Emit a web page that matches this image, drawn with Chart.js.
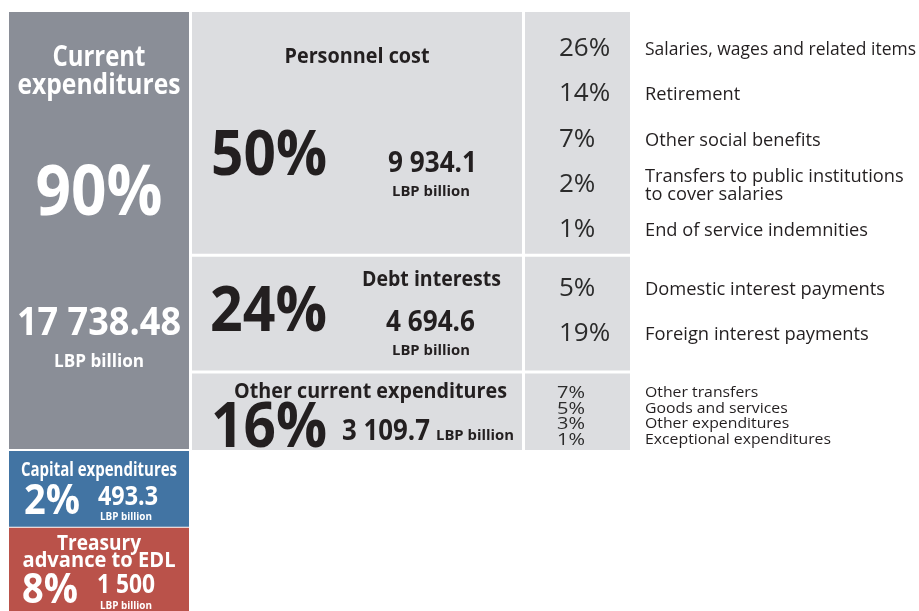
<!DOCTYPE html>
<html>
<head>
<meta charset="utf-8">
<script src="https://cdn.jsdelivr.net/npm/chart.js@4.4.1/dist/chart.umd.min.js"></script>
<style>
  html, body { margin: 0; padding: 0; background: #fff; }
  #wrap { width: 919px; height: 611px; }
</style>
</head>
<body>
<div id="wrap"><canvas id="chart" width="919" height="611"></canvas></div>
<script>
// shares in % of total spending, amounts in LBP billion
const groupNames = ['Current expenditures', 'Capital expenditures', 'Treasury advance to EDL']
const groupShares = [90, 2, 8]
const groupAmounts = [17738.48, 493.3, 1500]

const currentNames = ['Personnel cost', 'Debt interests', 'Other current expenditures']
const currentShares = [50, 24, 16]
const currentAmounts = [9934.1, 4694.6, 3109.7]

const personnelItems = ['Salaries, wages and related items', 'Retirement', 'Other social benefits', 'Transfers to public institutions\nto cover salaries', 'End of service indemnities']
const personnelShares = [26, 14, 7, 2, 1]

const debtItems = ['Domestic interest payments', 'Foreign interest payments']
const debtShares = [5, 19]

const otherItems = ['Other transfers', 'Goods and services', 'Other expenditures', 'Exceptional expenditures']
const otherShares = [7, 5, 3, 1]

// layout (x in page units, y in percentage points of the total)
const COL_GROUP = [9, 189]
const COL_CURRENT = [192, 522]
const COL_DETAIL = [525, 630]
const GAP = 0.62
const SMALL_TILE = 15.6
const Y_MIN = -2.47
const Y_MAX = 123.1

const GRAY = '#8a8e97'
const LIGHT = '#dcdde0'
const BLUE = '#4274a3'
const RED = '#ba524a'
const INK = '#231f20'
const FONT = '"Open Sans", "Noto Sans", sans-serif'

const fmt = n => {
    const [a, b] = n.toString().split('.')
    return a.replace(/\B(?=(\d{3})+(?!\d))/g, ' ') + (b ? '.' + b : '')
}

// build the tiles from the shares
const tiles = {}
tiles.current = { x: COL_GROUP, y: [0, groupShares[0] - 0.2], color: GRAY }
tiles.capital = { x: COL_GROUP, y: [groupShares[0] + 0.2, groupShares[0] + 0.2 + SMALL_TILE], color: BLUE }
tiles.edl = { x: COL_GROUP, y: [groupShares[0] + 0.4 + SMALL_TILE, Y_MAX + 5], color: RED }

let start = 0
currentShares.forEach((s, i) => {
    const y0 = start + (i ? GAP / 2 : 0)
    const y1 = start + s - (i < currentShares.length - 1 ? GAP / 2 : 0)
    tiles['mid' + i] = { x: COL_CURRENT, y: [y0, y1], color: LIGHT }
    tiles['det' + i] = { x: COL_DETAIL, y: [y0, y1], color: LIGHT }
    start += s
})

const datasets = Object.values(tiles).map(t => ({
    data: [{ x: t.x[0], y: t.y[0] }, { x: t.x[1], y: t.y[0] }],
    fill: { value: t.y[1] },
    backgroundColor: t.color,
    borderColor: 'transparent',
    borderWidth: 0,
    pointRadius: 0,
    tension: 0
}))

function text(ctx, str, x, y, size, weight, color, align, width) {
    ctx.save()
    ctx.font = `${weight} ${size}px ${FONT}`
    ctx.fillStyle = color
    ctx.textBaseline = 'alphabetic'
    ctx.textAlign = 'left'
    const w = ctx.measureText(str).width
    const tw = width || w
    const left = align === 'center' ? x - tw / 2 : align === 'right' ? x - tw : x
    ctx.translate(left, y)
    ctx.scale(tw / w, 1)
    ctx.fillText(str, 0, 0)
    ctx.restore()
}

// draw a list of labels with one shared horizontal squeeze, kept inside the page
function labelList(ctx, items, x, ys, size, refWidth, refIndex) {
    ctx.save()
    ctx.font = `400 ${size}px ${FONT}`
    const k = refWidth / ctx.measureText(items[refIndex]).width
    ctx.restore()
    const maxW = ctx.canvas.width - x - 3
    items.forEach((s, i) => {
        const lines = s.split('\n')
        lines.forEach((ln, j) => {
            const yy = ys[i] + (j - (lines.length - 1) / 2) * 18
            ctx.save()
            ctx.font = `400 ${size}px ${FONT}`
            const w = ctx.measureText(ln).width
            ctx.restore()
            text(ctx, ln, x, yy, size, 400, INK, 'left', Math.min(w * k, maxW))
        })
    })
}

const tileText = {
    id: 'tileText',
    afterDatasetsDraw(chart) {
        const { ctx, scales: { x, y } } = chart
        const box = t => ({
            l: x.getPixelForValue(t.x[0]), r: x.getPixelForValue(t.x[1]),
            t: y.getPixelForValue(t.y[0]), b: Math.min(y.getPixelForValue(t.y[1]), chart.height)
        })
        const W = '#ffffff'

        // current expenditures
        let g = box(tiles.current), cx = (g.l + g.r) / 2
        const cur = groupNames[0].split(' ')
        text(ctx, cur[0], cx, g.t + 54, 28, 700, W, 'center', 93)
        text(ctx, cur[1], cx, g.t + 82, 28, 700, W, 'center', 163)
        text(ctx, groupShares[0] + '%', cx, g.t + 203, 70, 700, W, 'center', 127)
        text(ctx, fmt(groupAmounts[0]), cx, g.t + 323, 40, 700, W, 'center', 164)
        text(ctx, 'LBP billion', cx, g.t + 355, 18, 700, W, 'center', 90)

        // capital expenditures
        g = box(tiles.capital)
        text(ctx, groupNames[1], cx, g.t + 25, 20, 700, W, 'center', 156)
        text(ctx, groupShares[1] + '%', g.l + 15, g.t + 63, 42, 700, W, 'left', 56)
        text(ctx, fmt(groupAmounts[1]), g.l + 89, g.t + 54, 26, 700, W, 'left', 60)
        text(ctx, 'LBP billion', g.l + 91, g.t + 69, 10, 700, W, 'left', 52)

        // treasury advance
        g = box(tiles.edl)
        text(ctx, 'Treasury', cx, g.t + 22, 21, 700, W, 'center', 84)
        text(ctx, 'advance to EDL', cx, g.t + 39, 21, 700, W, 'center', 153)
        text(ctx, groupShares[2] + '%', g.l + 13, g.t + 75, 42, 700, W, 'left', 56)
        text(ctx, fmt(groupAmounts[2]), g.l + 88, g.t + 65, 26, 700, W, 'left', 58)
        text(ctx, 'LBP billion', g.l + 91, g.t + 81, 10, 700, W, 'left', 52)

        // personnel cost
        let p = box(tiles.mid0)
        text(ctx, currentNames[0], (p.l + p.r) / 2, p.t + 51, 22, 700, INK, 'center', 145)
        text(ctx, currentShares[0] + '%', p.l + 19, p.t + 163, 63, 700, INK, 'left', 116)
        text(ctx, fmt(currentAmounts[0]), p.l + 240.5, p.t + 160, 28, 700, INK, 'center', 89)
        text(ctx, 'LBP billion', p.l + 239, p.t + 184, 15, 700, INK, 'center', 78)

        let d = box(tiles.det0)
        labelList(ctx, personnelItems, d.r + 15, personnelItems.map((_, i) => d.t + 43 + i * 45.25), 19, 223, 4)
        personnelShares.forEach((s, i) => text(ctx, s + '%', d.l + 34, d.t + 44 + i * 45.25, 26, 400, '#2b2b2b', 'left'))

        // debt interests
        p = box(tiles.mid1)
        let m = (p.t + p.b) / 2
        text(ctx, currentNames[1], p.l + 239.5, m - 27.5, 22, 700, INK, 'center', 139)
        text(ctx, currentShares[1] + '%', p.l + 18, m + 17.5, 63, 700, INK, 'left', 117)
        text(ctx, fmt(currentAmounts[1]), p.l + 238.5, m + 17.5, 28, 700, INK, 'center', 89)
        text(ctx, 'LBP billion', p.l + 239, m + 41.5, 15, 700, INK, 'center', 78)

        d = box(tiles.det1)
        m = (d.t + d.b) / 2
        const dy = [m - 19, m + 26]
        labelList(ctx, debtItems, d.r + 15, dy, 19, 240, 0)
        debtShares.forEach((s, i) => text(ctx, s + '%', d.l + 34, dy[i] + 1, 26, 400, '#2b2b2b', 'left'))

        // other current expenditures
        p = box(tiles.mid2)
        text(ctx, currentNames[2], p.l + 178.5, p.b - 52, 22, 700, INK, 'center', 273)
        text(ctx, currentShares[2] + '%', p.l + 19, p.b - 3, 63, 700, INK, 'left', 116)
        text(ctx, fmt(currentAmounts[2]), p.l + 150, p.b - 10, 28, 700, INK, 'left', 88)
        text(ctx, 'LBP billion', p.l + 244, p.b - 10, 15, 700, INK, 'left', 78)

        d = box(tiles.det2)
        const oy = otherItems.map((_, i) => d.b - 53 + i * 15.7)
        labelList(ctx, otherItems, d.r + 15, oy, 15, 186, 3)
        otherShares.forEach((s, i) => text(ctx, s + '%', d.l + 32, oy[i] + 1, 17, 400, '#2b2b2b', 'left', 28))
    }
}

window.onload = () => {
    const ctx = document.getElementById('chart').getContext('2d')
    new Chart(ctx, {
        type: 'line',
        data: { datasets },
        options: {
            responsive: false,
            animation: false,
            devicePixelRatio: 1,
            layout: { padding: 0 },
            scales: {
                x: { type: 'linear', min: 0, max: 919, display: false },
                y: { type: 'linear', min: Y_MIN, max: Y_MAX, reverse: true, display: false }
            },
            plugins: { legend: { display: false }, tooltip: { enabled: false } }
        },
        plugins: [tileText]
    })
}
</script>
</body>
</html>
